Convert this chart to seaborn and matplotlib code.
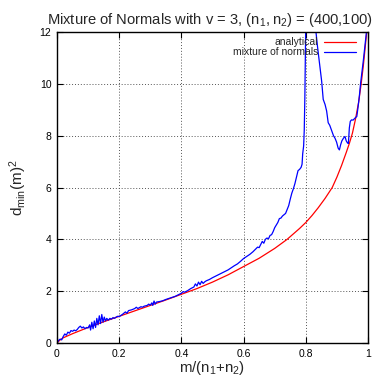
import numpy as np
import pandas as pd
import matplotlib
matplotlib.use("Agg")
import matplotlib.pyplot as plt
import seaborn as sns

# ---------------- data ----------------
ana_x = [0.0, 0.01, 0.02, 0.035, 0.05, 0.075, 0.1, 0.15, 0.2, 0.25, 0.3, 0.35, 0.4,
         0.45, 0.5, 0.55, 0.6, 0.65, 0.7, 0.74, 0.78, 0.8, 0.82, 0.84, 0.862, 0.885,
         0.9, 0.915, 0.93, 0.94, 0.95, 0.96, 0.97, 0.978, 0.985, 0.99, 0.996, 1.0]
ana_y = [0.0, 0.12, 0.2, 0.28, 0.36, 0.48, 0.6, 0.82, 1.03, 1.24, 1.45, 1.66, 1.88,
         2.1, 2.35, 2.63, 2.95, 3.27, 3.65, 4.0, 4.42, 4.65, 4.92, 5.22, 5.58, 6.0,
         6.4, 6.85, 7.35, 7.7, 8.1, 8.65, 9.3, 10.0, 10.7, 11.3, 12.0, 13.0]

mix_x = [0.000, 0.005, 0.010, 0.015, 0.020, 0.025, 0.030, 0.035, 0.040, 0.045,
         0.050, 0.055, 0.060, 0.065, 0.070, 0.075, 0.080, 0.085, 0.090, 0.095,
         0.100, 0.105, 0.108, 0.112, 0.116, 0.120, 0.124, 0.128, 0.132, 0.136,
         0.140, 0.144, 0.148, 0.152, 0.156, 0.160, 0.165, 0.170, 0.175, 0.180,
         0.185, 0.190, 0.195, 0.200, 0.210, 0.220, 0.225, 0.230, 0.240, 0.250,
         0.255, 0.260, 0.270, 0.275, 0.280, 0.290, 0.295, 0.300, 0.305, 0.308,
         0.312, 0.316, 0.320, 0.330, 0.340, 0.350, 0.360, 0.370, 0.380, 0.390,
         0.400, 0.405, 0.410, 0.420, 0.430, 0.440, 0.445, 0.450, 0.455, 0.460,
         0.465, 0.470, 0.475, 0.480, 0.490, 0.500, 0.510, 0.520, 0.530, 0.540,
         0.550, 0.560, 0.570, 0.580, 0.590, 0.600, 0.610, 0.620, 0.630, 0.640,
         0.645, 0.650, 0.655, 0.660, 0.665, 0.670, 0.675, 0.680, 0.685, 0.690,
         0.695, 0.700, 0.705, 0.710, 0.715, 0.720, 0.725, 0.730, 0.735, 0.740,
         0.745, 0.750, 0.755, 0.760, 0.765, 0.770, 0.775, 0.780, 0.785, 0.788,
         0.790, 0.793, 0.795, 0.797, 0.800, 0.810, 0.820, 0.830, 0.838, 0.846,
         0.851, 0.856, 0.862, 0.867, 0.872, 0.877, 0.883, 0.889, 0.894, 0.899,
         0.904, 0.908, 0.912, 0.916, 0.921, 0.926, 0.930, 0.934, 0.937, 0.940,
         0.943, 0.947, 0.952, 0.956, 0.960, 0.964, 0.968, 0.972, 0.976, 0.980,
         0.985, 0.990, 0.995, 1.000]
mix_y = [0.00, 0.10, 0.15, 0.12, 0.25, 0.35, 0.30, 0.42, 0.38, 0.48,
         0.45, 0.50, 0.47, 0.52, 0.60, 0.65, 0.58, 0.62, 0.55, 0.60,
         0.58, 0.70, 0.50, 0.80, 0.55, 0.85, 0.60, 0.95, 0.70, 1.05,
         0.75, 1.10, 0.80, 1.00, 0.85, 0.95, 0.88, 0.95, 0.92, 0.98,
         0.95, 1.00, 1.03, 1.02, 1.10, 1.20, 1.15, 1.25, 1.28, 1.33,
         1.38, 1.33, 1.40, 1.38, 1.42, 1.45, 1.50, 1.46, 1.55, 1.45,
         1.62, 1.50, 1.58, 1.60, 1.63, 1.68, 1.72, 1.76, 1.80, 1.86,
         1.92, 1.98, 1.96, 2.02, 2.10, 2.16, 2.28, 2.20, 2.35, 2.25,
         2.38, 2.30, 2.36, 2.40, 2.45, 2.52, 2.58, 2.64, 2.70, 2.76,
         2.82, 2.90, 2.98, 3.05, 3.15, 3.26, 3.34, 3.42, 3.52, 3.64,
         3.70, 3.68, 3.80, 3.92, 3.85, 4.00, 4.05, 4.02, 4.15, 4.18,
         4.30, 4.45, 4.55, 4.65, 4.80, 4.82, 4.90, 4.95, 5.00, 5.15,
         5.30, 5.55, 5.78, 5.95, 6.15, 6.40, 6.65, 6.70, 6.78, 6.90,
         7.30, 7.60, 8.20, 9.50, 12.50, 16.00, 15.00, 12.30, 11.40, 10.60,
         10.10, 9.40, 9.20, 8.95, 8.50, 8.40, 8.20, 8.00, 7.90, 7.75,
         7.52, 7.45, 7.65, 7.80, 7.90, 7.97, 7.80, 7.72, 7.70, 8.30,
         8.55, 8.61, 8.60, 8.65, 8.70, 8.74, 9.10, 9.50, 10.00, 10.40,
         10.90, 11.45, 12.00, 12.80]

x_ticks = [0, 0.2, 0.4, 0.6, 0.8, 1]
x_tick_labels = ["0", "0.2", "0.4", "0.6", "0.8", "1"]
y_ticks = [0, 2, 4, 6, 8, 10, 12]
y_tick_labels = ["0", "2", "4", "6", "8", "10", "12"]

df_ana = pd.DataFrame({"x": ana_x, "y": ana_y})
df_mix = pd.DataFrame({"x": mix_x, "y": mix_y})

# ---------------- style ----------------
sns.set_theme(style="ticks")
plt.rcParams["font.family"] = ["Liberation Sans", "DejaVu Sans"]
plt.rcParams["mathtext.fontset"] = "custom"
plt.rcParams["mathtext.rm"] = "Liberation Sans"

fig = plt.figure(figsize=(3.77, 3.76), dpi=100)
ax = fig.add_axes([57 / 377, (376 - 343) / 376, (368 - 57) / 377, (343 - 32) / 376])

sns.lineplot(data=df_ana, x="x", y="y", ax=ax, color="#ff0000", lw=0.9,
             label="analytical", sort=False, estimator=None)
sns.lineplot(data=df_mix, x="x", y="y", ax=ax, color="#0000ff", lw=0.9,
             label="mixture of normals", sort=False, estimator=None)

ax.set_xlim(0, 1)
ax.set_ylim(0, 12)
ax.set_xticks(x_ticks)
ax.set_xticklabels(x_tick_labels)
ax.set_yticks(y_ticks)
ax.set_yticklabels(y_tick_labels)

ax.grid(True, color="#555555", linestyle=(0, (1, 2)), lw=0.7)
ax.tick_params(direction="in", length=4, width=0.8, top=True, right=True,
               labelsize=7.5, colors="black", pad=4)
for s in ax.spines.values():
    s.set_visible(True)
    s.set_color("black")
    s.set_linewidth(1.0)

ax.set_xlabel(r"m/$\mathregular{(n_1}$+$\mathregular{n_2)}$", fontsize=10.8, labelpad=0)
ax.set_ylabel(r"$\mathregular{d_{min}(m)^2}$", fontsize=11, labelpad=8)
ax.set_title(r"Mixture of Normals with v = 3, $\mathregular{(n_1,n_2)}$ = (400,100)",
             fontsize=10.6, pad=6, x=0.49)

leg = ax.legend(loc="upper right", bbox_to_anchor=(0.968, 0.99), frameon=False,
                markerfirst=False, fontsize=7.5, handlelength=3.1, handletextpad=0.55,
                labelspacing=0.0, borderaxespad=0.0, borderpad=0.2)

fig.savefig("out.png", dpi=100)
